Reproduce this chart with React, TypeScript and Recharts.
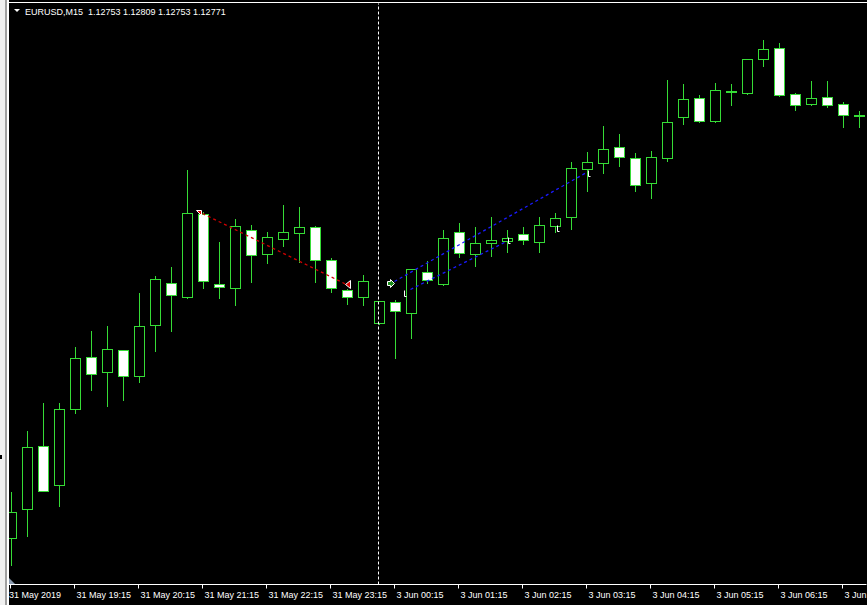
import React from "react";
import { Bar, ComposedChart, ReferenceDot, ReferenceLine, XAxis, YAxis } from "recharts";

// EURUSD M15, 31 May 2019 18:15 -> 3 Jun 2019 07:15 (54 bars)
const OPEN = [
  1.12046, 1.12075, 1.12138, 1.12099, 1.12175, 1.12227, 1.12212, 1.12234, 1.12208, 1.12259,
  1.12301, 1.12287, 1.1237, 1.123, 1.12296, 1.12354, 1.1233, 1.12345, 1.12351, 1.12357,
  1.12324, 1.12294, 1.12287, 1.12261, 1.12282, 1.12271, 1.12312, 1.123, 1.12352, 1.1233,
  1.12341, 1.12343, 1.1235, 1.12342, 1.12358, 1.12367, 1.12415, 1.12421, 1.12437, 1.12426,
  1.12401, 1.12426, 1.12467, 1.12486, 1.12463, 1.12492, 1.12491, 1.12525, 1.12536, 1.1249,
  1.1248, 1.12487, 1.1248, 1.12469,
];
const HIGH = [
  1.12092, 1.12153, 1.12181, 1.12181, 1.12237, 1.12253, 1.12258, 1.12234, 1.12291, 1.12308,
  1.12317, 1.12414, 1.12372, 1.12342, 1.12365, 1.12359, 1.12352, 1.12379, 1.12377, 1.12358,
  1.12326, 1.12295, 1.12309, 1.12283, 1.12284, 1.12315, 1.12323, 1.12354, 1.12361, 1.12357,
  1.12367, 1.12354, 1.12357, 1.12367, 1.12371, 1.12422, 1.12432, 1.12458, 1.1245, 1.12431,
  1.12433, 1.12504, 1.125, 1.12489, 1.12501, 1.125, 1.12525, 1.12544, 1.12541, 1.12491,
  1.12503, 1.12503, 1.12482, 1.12473,
];
const LOW = [
  1.12019, 1.12048, 1.12093, 1.12078, 1.12171, 1.12194, 1.12178, 1.12184, 1.12202, 1.12233,
  1.12253, 1.12286, 1.12296, 1.12286, 1.12279, 1.12302, 1.12321, 1.12338, 1.12322, 1.12302,
  1.12292, 1.1228, 1.12279, 1.1226, 1.12226, 1.12246, 1.12301, 1.12299, 1.12327, 1.12318,
  1.12328, 1.12332, 1.1234, 1.12332, 1.12352, 1.12355, 1.12393, 1.12411, 1.12418, 1.12393,
  1.12386, 1.12423, 1.1246, 1.12462, 1.12462, 1.12479, 1.1249, 1.12518, 1.12488, 1.12474,
  1.12479, 1.12477, 1.12457, 1.12457,
];
const CLOSE = [
  1.12072, 1.12137, 1.12093, 1.12175, 1.12226, 1.1221, 1.12235, 1.12208, 1.12258, 1.12305,
  1.12289, 1.12371, 1.12303, 1.12297, 1.12358, 1.12329, 1.12347, 1.12352, 1.12357, 1.12324,
  1.12296, 1.12287, 1.12303, 1.12283, 1.12273, 1.12315, 1.12304, 1.12346, 1.12331, 1.12341,
  1.12344, 1.12346, 1.12344, 1.12359, 1.12366, 1.12416, 1.12422, 1.12435, 1.12427, 1.12399,
  1.12427, 1.12462, 1.12485, 1.12463, 1.12494, 1.12493, 1.12525, 1.12535, 1.12489, 1.12479,
  1.12486, 1.12479, 1.12469, 1.12468,
];

// one label every 4 bars
const TICK_LABELS = [
  "31 May 2019", "31 May 19:15", "31 May 20:15", "31 May 21:15", "31 May 22:15", "31 May 23:15",
  "3 Jun 00:15", "3 Jun 01:15", "3 Jun 02:15", "3 Jun 03:15", "3 Jun 04:15", "3 Jun 05:15",
  "3 Jun 06:15", "3 Jun 07:15",
];
const DAY_BREAK = 23;

// trade lines: [bar, price] -> [bar, price]
const SELL_LINE = [{ x: 12, y: 1.12371 }, { x: 21, y: 1.123 }];
const BUY_LINES = [
  [{ x: 24, y: 1.12303 }, { x: 36, y: 1.12412 }],
  [{ x: 25, y: 1.12295 }, { x: 31, y: 1.12343 }],
];
const MARKS = [
  { x: 12, y: 1.12371, kind: "sellOpen" },
  { x: 21, y: 1.123, kind: "sellClose" },
  { x: 24, y: 1.12301, kind: "buyOpen" },
  { x: 25, y: 1.12291, kind: "close" },
  { x: 31, y: 1.12344, kind: "close" },
  { x: 34, y: 1.12356, kind: "close" },
  { x: 36, y: 1.12411, kind: "close" },
];

const TITLE = "EURUSD,M15  1.12753 1.12809 1.12753 1.12771";
const Y_DOMAIN = [1.12, 1.12581];

const GREEN = "#36dc36";
const FONT = "'Liberation Sans', Arial, sans-serif";

const data = OPEN.map((o, i) => ({ i, open: o, high: HIGH[i], low: LOW[i], close: CLOSE[i] }));

function Candle(props: any) {
  const { x, y, width, height, payload } = props;
  const { open, high, low, close } = payload;
  const yTop = Math.min(y, y + height);
  const h = Math.abs(height);
  const py = (v: number) => yTop + ((high - v) / (high - low)) * h;
  const cx = Math.floor(x + width / 2) + 0.5;
  const top = Math.floor(py(Math.max(open, close))) + 0.5;
  let bot = Math.floor(py(Math.min(open, close))) + 0.5;
  if (bot - top < 1) bot = top + 1;
  const wTop = Math.floor(yTop);
  const wBot = Math.floor(yTop + h);
  return (
    <g>
      <rect x={cx - 0.5} y={wTop} width={1} height={wBot - wTop + 1} fill={GREEN} />
      <rect x={cx - 5} y={top} width={10} height={bot - top} fill={close < open ? "#fff" : "#000"} stroke={GREEN} strokeWidth={1} />
    </g>
  );
}

const CLOSE_OFFSET: Record<number, number> = { 25: -6, 31: 2, 34: 3, 36: 2 };

function Mark(kind: string, bar: number) {
  return (props: any) => {
    const cx = Math.floor(props.cx) + 0.5;
    const cy = Math.floor(props.cy) + 0.5;
    if (kind === "sellClose")
      return <polygon points={`${cx - 1},${cy} ${cx + 4},${cy - 4} ${cx + 4},${cy + 4}`} fill="#e00000" stroke="#fff" strokeWidth={1} />;
    if (kind === "sellOpen")
      return <polygon points={`${cx - 6},${cy - 3} ${cx - 1},${cy - 3} ${cx - 1},${cy + 2}`} fill="#e00000" stroke="#fff" strokeWidth={1} />;
    if (kind === "buyOpen")
      return (
        <polygon
          points={`${cx - 7},${cy - 2} ${cx - 4},${cy - 2} ${cx - 4},${cy - 4} ${cx},${cy} ${cx - 4},${cy + 4} ${cx - 4},${cy + 2} ${cx - 7},${cy + 2}`}
          fill="#1a8a1a"
          stroke="#fff"
          strokeWidth={1}
        />
      );
    const dx = CLOSE_OFFSET[bar] ?? 0;
    return <polyline points={`${cx + dx},${cy - 3} ${cx + dx},${cy + 3} ${cx + dx + 2},${cy + 3}`} fill="none" stroke="#fff" strokeWidth={1} />;
  };
}

function TimeTick(props: any) {
  const { x, y, payload } = props;
  const label = TICK_LABELS[payload.value / 4];
  if (!label) return null;
  return (
    <text x={payload.value === 0 ? x - 1.5 : x + 2} y={y + 7} fill="#fff" fontSize={9} fontFamily={FONT}>
      {label}
    </text>
  );
}

export default function App() {
  return (
    <div style={{ position: "absolute", left: 0, top: 0, width: 867, height: 605, background: "#000", overflow: "hidden" }}>
      <ComposedChart width={867} height={605} data={data} margin={{ top: 3.5, right: 0.5, bottom: 0, left: 2.5 }}>
        <XAxis
          dataKey="i"
          type="category"
          interval={3}
          height={20.5}
          tick={<TimeTick />}
          tickSize={4}
          tickLine={{ stroke: "#fff" }}
          axisLine={{ stroke: "#fff" }}
        />
        <YAxis hide type="number" domain={Y_DOMAIN} allowDataOverflow />
        <Bar dataKey={(d: any) => [d.low, d.high]} barSize={11} shape={Candle} isAnimationActive={false} />
        <ReferenceLine x={DAY_BREAK} stroke="#fff" strokeDasharray="3 2" />
        <ReferenceLine segment={SELL_LINE} stroke="#d00000" strokeWidth={1.3} strokeDasharray="3 3" />
        {BUY_LINES.map((s, k) => (
          <ReferenceLine key={k} segment={s} stroke="#1a1aff" strokeWidth={1.3} strokeDasharray="3 3" />
        ))}
        {MARKS.map((m, k) => (
          <ReferenceDot key={k} x={m.x} y={m.y} r={3} shape={Mark(m.kind, m.x)} />
        ))}
      </ComposedChart>
      <svg width={867} height={605} style={{ position: "absolute", left: 0, top: 0, pointerEvents: "none" }}>
        <rect x={0} y={0} width={5} height={605} fill="#f0f0f0" />
        <rect x={5} y={0} width={2} height={605} fill="#a0a0a0" />
        <rect x={7} y={0} width={2} height={605} fill="#fff" />
        <rect x={0} y={455} width={2} height={4} fill="#000" />
        <rect x={9} y={2} width={858} height={1} fill="#fff" />
        <polygon points="9,578 9,584 15,584" fill="#8a9bb0" />
        <polygon points="14,9 20,9 17,12" fill="#fff" />
        <text x={25} y={14.5} fill="#fff" fontSize={9} fontFamily={FONT} style={{ whiteSpace: "pre" }}>
          {TITLE}
        </text>
      </svg>
    </div>
  );
}
